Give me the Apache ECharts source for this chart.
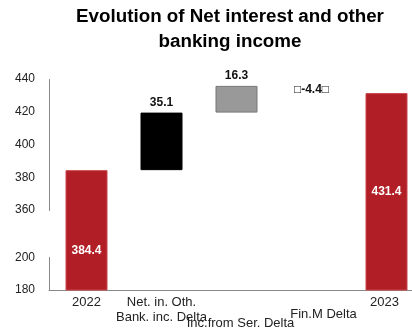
<!DOCTYPE html>
<html>
<head>
<meta charset="utf-8">
<script src="https://cdn.jsdelivr.net/npm/echarts@6/dist/echarts.min.js"></script>
<style>
  html, body { margin: 0; padding: 0; background: #fff; }
  #chart { width: 412px; height: 331px; }
</style>
</head>
<body>
<div id="chart"></div>
<script>
// Waterfall: opening value, three deltas, closing value
const categories = ['2022', 'Net. in. Oth.\nBank. inc. Delta', 'Inc.from Ser. Delta', 'Fin.M Delta', '2023'];
const openingValue = 384.4;
const deltas = [35.1, 16.3, -4.4];
const closingValue = 431.4;
const deltaLabels = ['35.1', '16.3', '\u25A1-4.4\u25A1'];

const RED = '#B21E25';
const FONT = 'Liberation Sans, Arial, sans-serif';

// invisible base + visible part for each category
const baseData = ['-'];
const barData = [];
barData.push({
  value: openingValue,
  itemStyle: { color: RED, borderColor: '#c8474c', borderWidth: 1 },
  label: { show: true, position: 'inside', offset: [0, 20], color: '#fff', fontWeight: 'bold', fontSize: 12, formatter: String(openingValue) }
});
let running = openingValue;
const deltaStyles = [
  { color: '#000', borderColor: '#000' },
  { color: '#999', borderColor: '#777' },
  { color: 'rgba(0,0,0,0)', borderColor: 'rgba(0,0,0,0)' }
];
deltas.forEach((d, i) => {
  const lo = d >= 0 ? running : running + d;
  baseData.push(lo);
  barData.push({
    value: Math.abs(d),
    itemStyle: Object.assign({ borderWidth: 1 }, deltaStyles[i]),
    label: {
      show: true,
      position: d >= 0 ? 'top' : 'inside',
      distance: 4,
      color: '#111', fontWeight: 'bold', fontSize: 12,
      formatter: deltaLabels[i]
    }
  });
  running += d;
});
baseData.push('-');
barData.push({
  value: closingValue,
  itemStyle: { color: RED, borderColor: '#c8474c', borderWidth: 1 },
  label: { show: true, position: 'inside', color: '#fff', fontWeight: 'bold', fontSize: 12, formatter: String(closingValue) }
});

// per-category label nudges for the staggered axis labels
const catPadding = [
  [0, 0, 0, 0],
  [0, 0, 0, 0],
  [21, 0, 0, 8],
  [12, 0, 0, 24],
  [0, 4, 0, 0]
];

const chart = echarts.init(document.getElementById('chart'), null, { renderer: 'canvas' });
chart.setOption({
  animation: false,
  backgroundColor: '#fff',
  textStyle: { fontFamily: FONT },
  title: {
    text: 'Evolution of Net interest and other\nbanking income',
    left: 230,
    top: 0,
    textAlign: 'center',
    padding: [4, 0, 0, 0],
    textStyle: { fontFamily: FONT, fontSize: 18.8, fontWeight: 'bold', color: '#000', lineHeight: 25 }
  },
  grid: { left: 49, right: -12, top: 79, bottom: 41, outerBoundsMode: 'none', containLabel: false },
  xAxis: {
    type: 'category',
    data: categories.map((c, i) => ({ value: c, textStyle: { padding: catPadding[i] } })),
    axisLine: { lineStyle: { color: '#888', width: 1 } },
    axisTick: { show: false },
    axisLabel: { interval: 0, color: '#222', fontSize: 13, margin: 5, lineHeight: 15, fontFamily: FONT }
  },
  yAxis: {
    type: 'value',
    min: 180,
    max: 440,
    interval: 20,
    breaks: [{ start: 200, end: 360, gap: 28.7 }],
    breakArea: { show: false },
    splitLine: { show: false },
    axisLine: { show: true, lineStyle: { color: '#888', width: 1 } },
    axisTick: { show: false },
    axisLabel: { color: '#222', fontSize: 12, margin: 14, fontFamily: FONT }
  },
  series: [
    {
      type: 'bar',
      stack: 'wf',
      data: baseData,
      barWidth: 42,
      itemStyle: { color: 'rgba(0,0,0,0)' },
      silent: true
    },
    {
      type: 'bar',
      stack: 'wf',
      data: barData,
      barWidth: 42
    }
  ]
});
</script>
</body>
</html>
